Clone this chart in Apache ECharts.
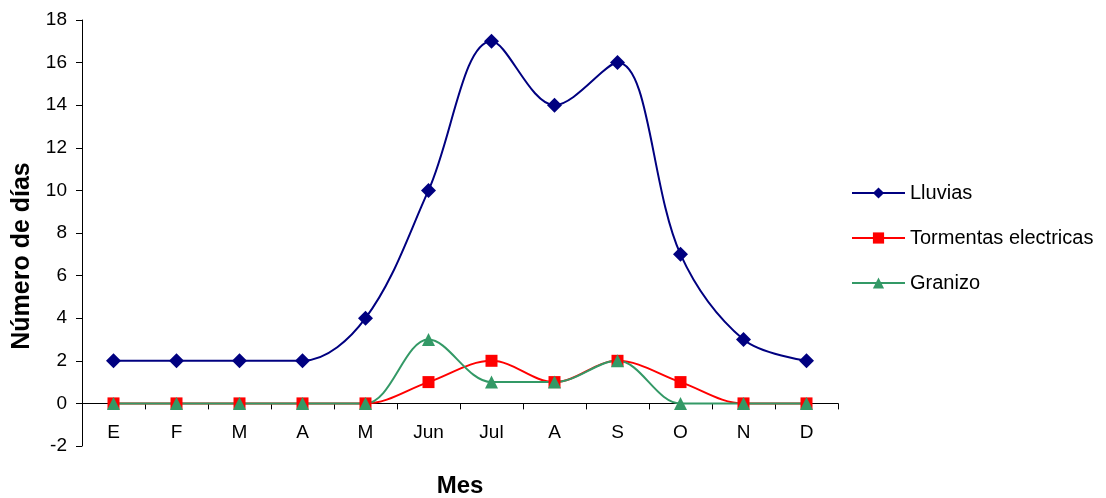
<!DOCTYPE html>
<html>
<head>
<meta charset="utf-8">
<script src="https://cdn.jsdelivr.net/npm/echarts@6/dist/echarts.min.js"></script>
<style>
  html, body { margin: 0; padding: 0; background: #fff; }
  #chart { width: 1106px; height: 498px; }
</style>
</head>
<body>
<div id="chart"></div>
<script>
// Monthly count of days with each weather event
const months = ['E', 'F', 'M', 'A', 'M', 'Jun', 'Jul', 'A', 'S', 'O', 'N', 'D'];
const lluvias = [2, 2, 2, 2, 4, 10, 17, 14, 16, 7, 3, 2];
const tormentas = [0, 0, 0, 0, 0, 1, 2, 1, 2, 1, 0, 0];
const granizo = [0, 0, 0, 0, 0, 3, 1, 1, 2, 0, 0, 0];

const FONT = '"Liberation Sans", Arial, sans-serif';

const chart = echarts.init(document.getElementById('chart'), null, { renderer: 'canvas' });

function lineSeries(name, data, color, symbol, size) {
  return {
    name: name,
    type: 'line',
    data: data,
    smooth: 0.35,
    symbol: symbol,
    symbolSize: size,
    showAllSymbol: true,
    lineStyle: { color: color, width: 2 },
    itemStyle: { color: color },
    emphasis: { disabled: true },
    animation: false
  };
}

chart.setOption({
  animation: false,
  textStyle: { fontFamily: FONT },
  grid: {
    left: 82, top: 20, right: 268, bottom: 52,
    containLabel: false,
    outerBoundsMode: 'none'
  },
  legend: {
    orient: 'vertical',
    left: 851,
    top: 183,
    padding: 0,
    itemWidth: 53,
    itemHeight: 14,
    itemGap: 25,
    textStyle: { fontFamily: FONT, fontSize: 20, color: '#000' },
    data: ['Lluvias', 'Tormentas electricas', 'Granizo']
  },
  // vertical axis title, set slightly below the axis midpoint
  graphic: [{
    type: 'text',
    x: 22,
    y: 256,
    rotation: Math.PI / 2,
    style: {
      text: 'Número de días',
      font: 'bold 25px ' + FONT,
      fill: '#000',
      align: 'center',
      verticalAlign: 'middle'
    }
  }],
  xAxis: {
    type: 'category',
    data: months,
    boundaryGap: true,
    name: 'Mes',
    nameLocation: 'middle',
    nameGap: 28,
    nameTextStyle: { fontFamily: FONT, fontSize: 24, fontWeight: 'bold', color: '#000' },
    axisLine: { onZero: true, lineStyle: { color: '#000', width: 1 } },
    axisTick: { show: true, alignWithLabel: false, length: 6, lineStyle: { color: '#000' } },
    axisLabel: { fontFamily: FONT, fontSize: 19, color: '#000', margin: -23 },
    splitLine: { show: false }
  },
  yAxis: {
    type: 'value',
    min: -2,
    max: 18,
    interval: 2,
    axisLine: { show: true, lineStyle: { color: '#000', width: 1 } },
    axisTick: { show: true, length: 6, lineStyle: { color: '#000' } },
    axisLabel: { fontFamily: FONT, fontSize: 19, color: '#000', margin: 15 },
    splitLine: { show: false }
  },
  series: [
    lineSeries('Lluvias', lluvias, '#000080', 'diamond', 15),
    lineSeries('Tormentas electricas', tormentas, '#FF0000', 'rect', 12),
    lineSeries('Granizo', granizo, '#339966', 'triangle', 13)
  ]
});
</script>
</body>
</html>
